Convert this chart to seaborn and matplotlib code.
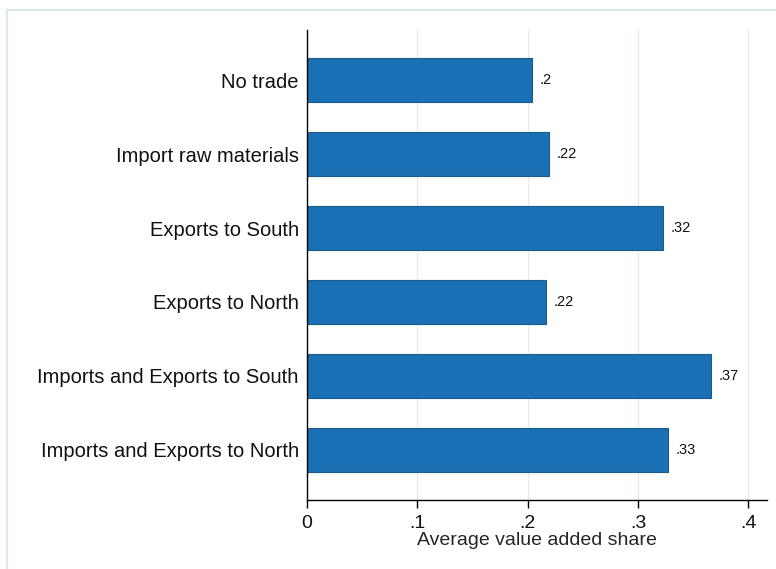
import matplotlib
matplotlib.use("Agg")
import matplotlib.pyplot as plt
import seaborn as sns
import pandas as pd

# datos
categorias = ["No trade", "Import raw materials", "Exports to South",
              "Exports to North", "Imports and Exports to South",
              "Imports and Exports to North"]
valores = [0.204, 0.219, 0.323, 0.217, 0.366, 0.327]
etiquetas = [".2", ".22", ".32", ".22", ".37", ".33"]
ticks_x = [0, 0.1, 0.2, 0.3, 0.4]
ticks_x_txt = ["0", ".1", ".2", ".3", ".4"]

df = pd.DataFrame({"cat": categorias, "val": valores})

sns.set_style("white")
plt.rcParams["font.family"] = ["Liberation Sans", "DejaVu Sans"]
plt.rcParams["text.color"] = "#111111"
plt.rcParams["xtick.color"] = "black"
plt.rcParams["xtick.labelcolor"] = "#111111"
plt.rcParams["ytick.labelcolor"] = "#111111"

fig = plt.figure(figsize=(7.76, 5.69), dpi=100)
# marco exterior tipo Stata
fig.patches.append(plt.Rectangle((7 / 776, -0.1), 1.1, 1 - 10 / 569 + 0.1,
                                 transform=fig.transFigure, fill=False,
                                 edgecolor="#dde8ec", linewidth=1.5))
ax = fig.add_axes([307 / 776, 1 - 500 / 569, 460 / 776, 470 / 569])

for t in ticks_x[1:]:
    ax.axvline(t, color="#e3ecf0", linewidth=1, zorder=0)

sns.barplot(data=df, x="val", y="cat", ax=ax, color="#1a70b5", saturation=1,
            width=0.6, edgecolor="#1c5a8c", linewidth=0.8, zorder=2)

for i, (v, lab) in enumerate(zip(valores, etiquetas)):
    ax.text(v + 0.007, i, lab, va="center", ha="left", fontsize=10.5)

ax.set_xlim(0, 0.417)
ax.set_ylim(5.676, -0.676)
ax.set_xticks(ticks_x)
ax.set_xticklabels(ticks_x_txt, fontsize=14)
ax.tick_params(axis="x", direction="out", length=6, width=1, pad=5, bottom=True)
ax.tick_params(axis="y", length=0, labelsize=14.5, pad=6)
ax.set_ylabel("")
ax.set_xlabel("Average value added share", fontsize=14, labelpad=0)

for s in ["top", "right"]:
    ax.spines[s].set_visible(False)
for s in ["left", "bottom"]:
    ax.spines[s].set_color("black")
    ax.spines[s].set_linewidth(1)

fig.savefig("out.png", dpi=100)
